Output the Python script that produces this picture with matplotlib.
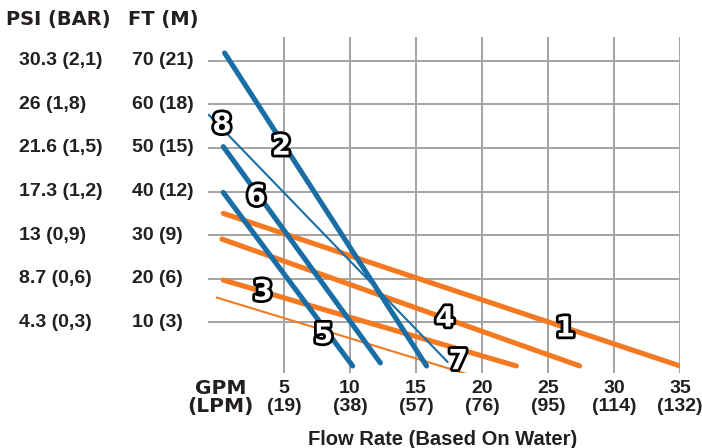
import matplotlib.pyplot as plt
import matplotlib.patheffects as pe
from matplotlib.transforms import blended_transform_factory

#### DATA
gpm_ticks = [5, 10, 15, 20, 25, 30, 35]
lpm_labels = ['(19)', '(38)', '(57)', '(76)', '(95)', '(114)', '(132)']
ft_ticks = [10, 20, 30, 40, 50, 60, 70]
ft_labels = ['10 (3)', '20 (6)', '30 (9)', '40 (12)', '50 (15)', '60 (18)', '70 (21)']
psi_labels = ['4.3 (0,3)', '8.7 (0,6)', '13 (0,9)', '17.3 (1,2)', '21.6 (1,5)', '26 (1,8)', '30.3 (2,1)']

# pump curves: start / end point (gpm, ft)
curve_names = ['1', '2', '3', '4', '5', '6', '7', '8']
curve_gpm = [[0.4, 35.0], [0.5, 15.8], [0.4, 22.6], [0.3, 27.4],
             [0.4, 10.2], [0.4, 12.3], [-0.1, 18.8], [-0.7, 17.4]]
curve_ft = [[35.0, 0.0], [71.8, 0.0], [19.7, 0.0], [29.1, 0.0],
            [39.8, 0.0], [50.3, 0.7], [15.7, -1.8], [57.6, 0.9]]
curve_color = ['orange', 'blue', 'orange', 'orange', 'blue', 'blue', 'orange', 'blue']
curve_thick = [True, True, True, True, True, True, False, False]

# where the number labels sit (gpm, ft)
label_gpm = [26.3, 4.8, 3.4, 17.2, 8.0, 2.9, 18.2, 0.3]
label_ft = [8.6, 50.3, 17.0, 10.9, 7.1, 38.8, 1.1, 55.3]

#### PLOTTING
W, H = 702, 448
fig = plt.figure(figsize=(W / 100, H / 100), dpi=100)

# axes placed in pixels: x 208..680, y 36.8..372.5 (from top)
left, right, top, bottom = 208.1, 680.0, 36.8, 372.5
ax = fig.add_axes([left / W, (H - bottom) / H, (right - left) / W, (bottom - top) / H])
ax.set_xlim(-0.75, 35)
ax.set_ylim(-1.5, 75.5)
for s in ax.spines.values():
    s.set_visible(False)
ax.set_xticks([])
ax.set_yticks([])

grid_col = '#a3a3a3'
for g in gpm_ticks:
    ax.axvline(g, color=grid_col, lw=1.4, zorder=1)
for f in ft_ticks:
    ax.axhline(f, color=grid_col, lw=1.4, zorder=1)

colors = {'orange': '#f47a22', 'blue': '#1a6ea6'}
for i in range(len(curve_names)):
    lw = 3.7 if curve_thick[i] else 1.5
    z = 3 if curve_color[i] == 'blue' else 2
    ax.plot(curve_gpm[i], curve_ft[i], color=colors[curve_color[i]], lw=lw,
            solid_capstyle='round', zorder=z)

outline = [pe.Stroke(linewidth=4, foreground='black'), pe.Normal()]
for i in range(len(curve_names)):
    ax.text(label_gpm[i], label_ft[i], curve_names[i], color='white', fontsize=20,
            fontweight='bold', family='DejaVu Sans', ha='center', va='center',
            path_effects=outline, zorder=5)

font = 'Liberation Sans'
txt = '#231f20'
fs = 14

# left labels: x in figure pixels, y in data
tl = blended_transform_factory(fig.transFigure, ax.transData)
for f, a, b in zip(ft_ticks, psi_labels, ft_labels):
    ax.text(19 / W, f, a, transform=tl, ha='left', va='center', fontsize=fs,
            fontweight='bold', family=font, color=txt)
    ax.text(132 / W, f, b, transform=tl, ha='left', va='center', fontsize=fs,
            fontweight='bold', family=font, color=txt)

fig.text(6 / W, 1 - 20 / H, 'PSI (BAR)', ha='left', va='center', fontsize=14,
         fontweight='bold', family='DejaVu Sans', color=txt)
fig.text(128 / W, 1 - 20 / H, 'FT (M)', ha='left', va='center', fontsize=14,
         fontweight='bold', family='DejaVu Sans', color=txt)

# bottom labels: x in data, y in figure pixels
tb = blended_transform_factory(ax.transData, fig.transFigure)
for g, l in zip(gpm_ticks, lpm_labels):
    ax.text(g, 1 - 388 / H, str(g), transform=tb, ha='center', va='center',
            fontsize=fs, fontweight='bold', family=font, color=txt)
    ax.text(g, 1 - 406 / H, l, transform=tb, ha='center', va='center',
            fontsize=fs, fontweight='bold', family=font, color=txt)

fig.text(221 / W, 1 - 388 / H, 'GPM', ha='center', va='center', fontsize=14.5,
         fontweight='bold', family='DejaVu Sans', color=txt)
fig.text(220 / W, 1 - 406 / H, '(LPM)', ha='center', va='center', fontsize=14.5,
         fontweight='bold', family='DejaVu Sans', color=txt)

fig.text(443 / W, 1 - 439 / H, 'Flow Rate (Based On Water)', ha='center', va='center',
         fontsize=14.5, fontweight='bold', family=font, color=txt)

fig.savefig('out.png', dpi=100)
